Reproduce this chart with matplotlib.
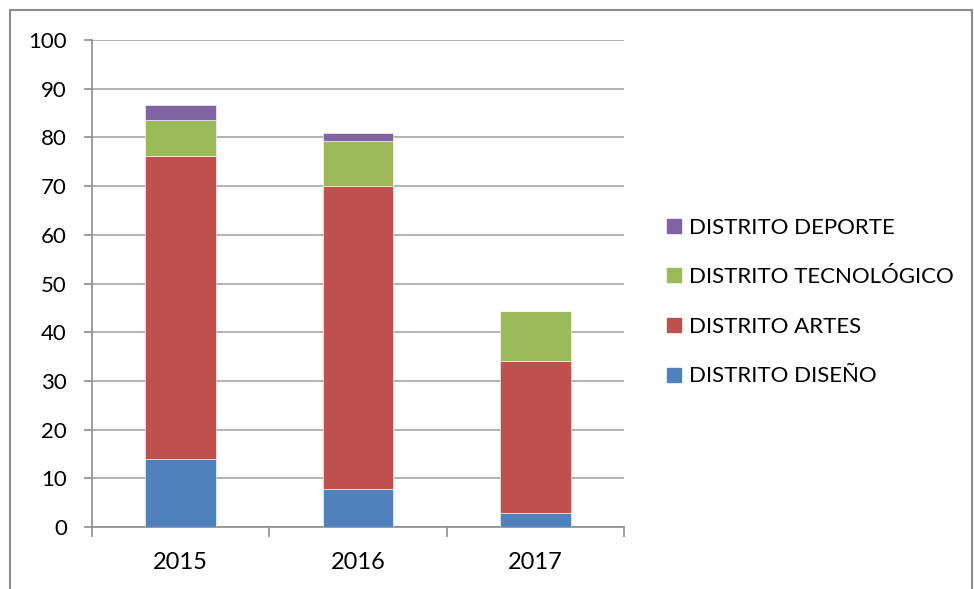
import matplotlib
matplotlib.use("Agg")
import matplotlib.pyplot as plt
from matplotlib.patches import Rectangle
from matplotlib.lines import Line2D
import numpy as np

years = ["2015", "2016", "2017"]
diseno = [14.0, 7.8, 2.8]
artes = [62.2, 62.2, 31.3]
tecnologico = [7.4, 9.2, 10.2]
deporte = [3.1, 1.8, 0.0]

series_names = ["DISTRITO DISEÑO", "DISTRITO ARTES", "DISTRITO TECNOLÓGICO", "DISTRITO DEPORTE"]
series_values = [diseno, artes, tecnologico, deporte]
colors = ["#4F81BD", "#C0504D", "#9BBB59", "#8064A2"]

plt.rcParams["font.family"] = ["Lato", "DejaVu Sans"]

W, H = 974, 589
fig = plt.figure(figsize=(W / 100, H / 100), dpi=100)
ax = fig.add_axes([92 / W, 1 - 527 / H, (624 - 92) / W, (527 - 40) / H])

x = np.arange(len(years))
bottom = np.zeros(len(years))
for name, vals, c in zip(series_names, series_values, colors):
    vals = np.array(vals)
    ax.bar(x, vals, width=0.4, bottom=bottom, color=c, label=name,
           edgecolor="white", linewidth=0.4, zorder=3)
    bottom += vals

ax.set_xlim(-0.5, len(years) - 0.5)
ax.set_ylim(0, 100)
ax.set_yticks(np.arange(0, 101, 10))
ax.yaxis.grid(True, color="#a6a6a6", linewidth=1.2, zorder=0)
ax.set_axisbelow(True)

ax.set_xticks(x)
ax.set_xticklabels(years)
ax.set_xticks(np.arange(len(years) + 1) - 0.5, minor=True)
ax.tick_params(axis="x", which="major", length=0, labelsize=17, pad=18, colors="black")
ax.tick_params(axis="x", which="minor", length=7, color="#8c8c8c", width=1.2)
ax.tick_params(axis="y", which="major", length=6, color="#8c8c8c", width=1.2,
               labelsize=16, pad=12)
for s in ["top", "right"]:
    ax.spines[s].set_visible(False)
for s in ["left", "bottom"]:
    ax.spines[s].set_color("#8c8c8c")
    ax.spines[s].set_linewidth(1.2)

handles = [Line2D([], [], marker="s", linestyle="none", markersize=9.5,
                  markerfacecolor=c, markeredgecolor=c) for c in colors]
leg = fig.legend(handles[::-1], series_names[::-1], loc="center left",
                 bbox_to_anchor=(643 / W, 1 - 302 / H), frameon=False,
                 fontsize=16, labelspacing=1.33, handletextpad=0.15,
                 handlelength=1.0)

# outer chart border
fig.patches.append(Rectangle((9.5 / W, -0.05), (W - 12) / W, (H - 9.5) / H + 0.05,
                             transform=fig.transFigure, fill=False,
                             edgecolor="#8c8c8c", linewidth=1.5))

fig.savefig("out.png", dpi=100)
